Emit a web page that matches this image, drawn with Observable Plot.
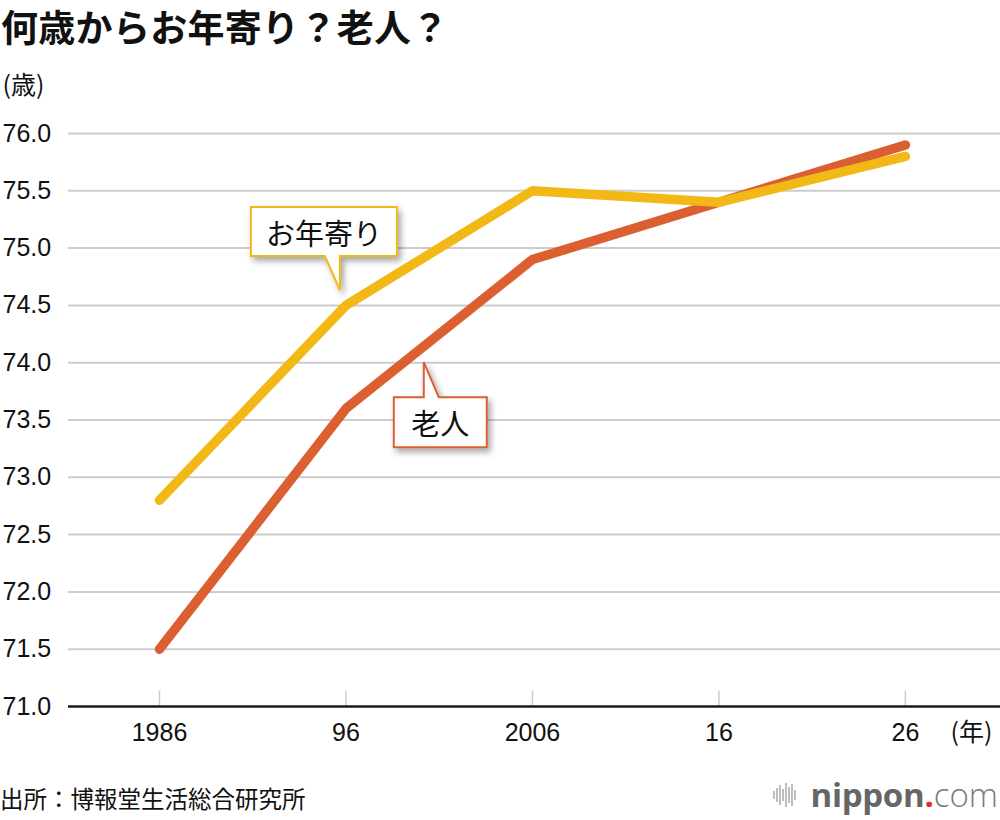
<!DOCTYPE html>
<html lang="ja">
<head>
<meta charset="utf-8">
<script src="https://cdn.jsdelivr.net/npm/d3@7"></script>
<script src="https://cdn.jsdelivr.net/npm/@observablehq/plot@0.6"></script>
<style>
  html, body { margin: 0; padding: 0; background: #fff; }
  body { width: 1000px; height: 820px; position: relative; overflow: hidden;
         font-family: "Liberation Sans", "Noto Sans CJK JP", sans-serif; color: #111; }
  #title { position: absolute; left: 1px; top: 4px; font-family: "Noto Sans CJK JP", sans-serif;
           font-weight: 700; font-size: 37px; line-height: 44px; letter-spacing: 0.3px; white-space: nowrap; }
  #chart { position: absolute; left: 0; top: 55px; }
  #source { position: absolute; left: 0px; top: 784px; font-family: "Noto Sans CJK JP", sans-serif;
            font-size: 23.5px; line-height: 28px; white-space: nowrap; }
  #logo { position: absolute; right: 2px; top: 779px; height: 32px; line-height: 32px; white-space: nowrap;
          font-family: "Open Sans", "Noto Sans", sans-serif; font-size: 33px; color: #666; display: flex; align-items: center; }
  #logo .n { font-weight: 700; letter-spacing: -0.3px; }
  #logo .dot { color: #e5262b; font-weight: 700; }
  #logo .com { font-weight: 300; color: #7a7a7a; }
  #logo svg { margin-right: 14px; }
</style>
</head>
<body>
<div id="title">何歳からお年寄り？老人？</div>
<div id="chart"></div>
<div id="source">出所：博報堂生活総合研究所</div>
<div id="logo"><svg width="24" height="30" viewBox="0 0 24 30"><g fill="#bdbdbd">
  <rect x="0" y="11" width="2" height="8"/><rect x="3" y="8" width="2" height="14"/>
  <rect x="6" y="5" width="2" height="20"/><rect x="9" y="9" width="2" height="12"/>
  <rect x="12" y="3" width="2" height="24"/><rect x="15" y="7" width="2" height="16"/>
  <rect x="18" y="4" width="2" height="22"/><rect x="21" y="10" width="2" height="10"/></g></svg><span class="n">nippon</span><span class="dot">.</span><span class="com">com</span></div>
<script>
// ---- data ----
const years = [1986, 1996, 2006, 2016, 2026];
const yearLabels = ["1986", "96", "2006", "16", "26"];
const otoshiyori = [72.8, 74.5, 75.5, 75.4, 75.8]; // お年寄り
const roujin = [71.5, 73.6, 74.9, 75.4, 75.9];     // 老人
const yTicks = [71.0, 71.5, 72.0, 72.5, 73.0, 73.5, 74.0, 74.5, 75.0, 75.5, 76.0];
const seriesNames = ["お年寄り", "老人"];
const yUnit = "(歳)";
const xUnit = "(年)";

// ---- styles ----
const YELLOW = "#f2b916";
const ORANGE = "#dc5f31";
const FONT_NUM = "Liberation Sans, Noto Sans CJK JP, sans-serif";
const FONT_JP = "Noto Sans CJK JP, sans-serif";

const rowsY = years.map((x, i) => ({x, y: otoshiyori[i]}));
const rowsO = years.map((x, i) => ({x, y: roujin[i]}));

// callout anchor (pointer tip) in data space, with pixel geometry
const callouts = [
  {label: seriesNames[0], x: 1995.7, y: 74.63, color: YELLOW,
   path: "M-89,-83H57V-34H0V0L-15,-34H-89Z", tx: -16, ty: -58.5},
  {label: seriesNames[1], x: 2000.2, y: 74.0, color: ORANGE,
   path: "M-30,35H0V0L15,35H63V85H-30Z", tx: 16.5, ty: 60}
];

function calloutMark(index, scales, values, dimensions, context) {
  const sx = typeof scales.x === "function" ? scales.x : scales.scales.x.apply;
  const sy = typeof scales.y === "function" ? scales.y : scales.scales.y.apply;
  const svgNS = "http://www.w3.org/2000/svg";
  const g = document.createElementNS(svgNS, "g");
  const defs = document.createElementNS(svgNS, "defs");
  defs.innerHTML = '<filter id="cshadow" x="-30%" y="-30%" width="160%" height="170%">' +
    '<feDropShadow dx="3" dy="4" stdDeviation="3" flood-color="#000" flood-opacity="0.35"/></filter>';
  g.appendChild(defs);
  for (const c of callouts) {
    const cg = document.createElementNS(svgNS, "g");
    cg.setAttribute("transform", `translate(${sx(c.x)},${sy(c.y)})`);
    const p = document.createElementNS(svgNS, "path");
    p.setAttribute("d", c.path);
    p.setAttribute("fill", "#fff");
    p.setAttribute("stroke", c.color);
    p.setAttribute("stroke-width", "2");
    p.setAttribute("stroke-linejoin", "miter");
    p.setAttribute("filter", "url(#cshadow)");
    cg.appendChild(p);
    const t = document.createElementNS(svgNS, "text");
    t.setAttribute("x", c.tx);
    t.setAttribute("y", c.ty);
    t.setAttribute("text-anchor", "middle");
    t.setAttribute("dominant-baseline", "central");
    t.setAttribute("font-family", FONT_JP);
    t.setAttribute("font-size", "29");
    t.setAttribute("fill", "#111");
    t.textContent = c.label;
    cg.appendChild(t);
    g.appendChild(cg);
  }
  return g;
}

const chart = Plot.plot({
  width: 1000,
  height: 725,
  marginLeft: 68,
  marginRight: 0,
  marginTop: 78,
  marginBottom: 74,
  style: {fontFamily: FONT_NUM, background: "#fff", overflow: "visible"},
  x: {domain: [1981.12, 2031.1], axis: null},
  y: {domain: [71, 76], axis: null},
  marks: [
    Plot.ruleY(yTicks.filter(d => d !== 71), {stroke: "#cccccc", strokeWidth: 2}),
    Plot.ruleX(years, {y1: 71, y2: 71.135, stroke: "#cccccc", strokeWidth: 1.5}),
    Plot.ruleY([71], {stroke: "#1a1a1a", strokeWidth: 2.5}),
    Plot.text(yTicks, {y: d => d, text: d => d.toFixed(1), frameAnchor: "left", dx: -66,
      textAnchor: "start", lineAnchor: "middle", fontSize: 25, fill: "#111"}),
    Plot.text(years, {x: d => d, y: 71, text: (d, i) => yearLabels[i], dy: 26,
      textAnchor: "middle", lineAnchor: "middle", fontSize: 25, fill: "#111"}),
    Plot.text([xUnit], {frameAnchor: "bottom-right", dx: -8, dy: 26, textAnchor: "end",
      lineAnchor: "middle", fontSize: 25, fontFamily: FONT_JP, fill: "#111"}),
    Plot.text([yUnit], {frameAnchor: "top-left", dx: -66, dy: -48, textAnchor: "start",
      lineAnchor: "middle", fontSize: 25, fontFamily: FONT_JP, fill: "#111"}),
    Plot.line(rowsO, {x: "x", y: "y", stroke: ORANGE, strokeWidth: 9.5, strokeLinecap: "round", strokeLinejoin: "miter"}),
    Plot.line(rowsY, {x: "x", y: "y", stroke: YELLOW, strokeWidth: 9.5, strokeLinecap: "round", strokeLinejoin: "miter"}),
    calloutMark
  ]
});
document.getElementById("chart").appendChild(chart);
</script>
</body>
</html>
